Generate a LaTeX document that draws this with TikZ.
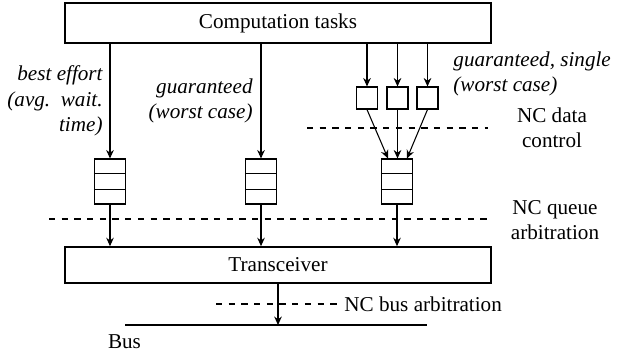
\documentclass[tikz,border=0pt]{standalone}
\usepackage{fontspec}
\setmainfont{Liberation Serif}
\usetikzlibrary{arrows.meta,calc}
\tikzset{
  bigbox/.style={draw,line width=0.8pt,minimum width=7.08cm,inner sep=0pt},
  smallbox/.style={draw,line width=0.5pt,minimum width=0.349cm,minimum height=0.366cm,inner sep=0pt},
  queuebox/.style={draw,line width=0.5pt,minimum width=0.515cm,minimum height=0.748cm,inner sep=0pt},
  arr/.style={line width=0.5pt,-{Stealth[length=4pt,width=3.6pt]}},
  sep/.style={dashed,line width=0.5pt},
  lbl/.style={font=\itshape,inner sep=0pt},
  txt/.style={inner sep=0pt,align=center}
}
\newcommand{\qlines}[1]{%
  \draw[line width=0.5pt] ($(#1.north west)!1/3!(#1.south west)$) -- ($(#1.north east)!1/3!(#1.south east)$);
  \draw[line width=0.5pt] ($(#1.north west)!2/3!(#1.south west)$) -- ($(#1.north east)!2/3!(#1.south east)$);}
\begin{document}
\begin{tikzpicture}[x=0.01662cm,y=-0.01662cm]
\useasboundingbox (0,0) rectangle (624,358);
% main boxes
\node[bigbox,minimum height=0.665cm] (tasks) at (278,23) {Computation tasks};
\node[bigbox,minimum height=0.598cm] (tr) at (278,265) {Transceiver};
% queues
\node[queuebox] (q1) at (110,181.5) {};
\node[queuebox] (q2) at (261,181.5) {};
\node[queuebox] (q3) at (397,181.5) {};
\qlines{q1}\qlines{q2}\qlines{q3}
% single boxes
\node[smallbox] (s1) at (367,98) {};
\node[smallbox] (s2) at (397.5,98) {};
\node[smallbox] (s3) at (427.5,98) {};
% arrows from tasks
\draw[arr] (tasks.south -| q1) -- (q1.north);
\draw[arr] (tasks.south -| q2) -- (q2.north);
\draw[arr] (tasks.south -| s1) -- (s1.north);
\draw[arr] (tasks.south -| s2) -- (s2.north);
\draw[arr] (tasks.south -| s3) -- (s3.north);
% single to queue
\draw[arr] (s1.south) -- ($(q3.north)+(-9,0)$);
\draw[arr] (s2.south) -- (s2.south |- q3.north);
\draw[arr] (s3.south) -- ($(q3.north)+(10,0)$);
% queue to transceiver
\draw[arr] (q1.south) -- (q1.south |- tr.north);
\draw[arr] (q2.south) -- (q2.south |- tr.north);
\draw[arr] (q3.south) -- (q3.south |- tr.north);
% bus
\coordinate (busL) at (125,325);
\coordinate (busR) at (427,325);
\draw[line width=0.6pt] (busL) -- (busR);
\draw[arr] (tr.south) -- (tr.south |- busL);
% separators
\draw[sep] (307,128) -- (488,128);
\draw[sep] (49,219) -- (488,219);
\draw[sep] (216,304) -- (338,304);
% labels
\node[lbl,anchor=east,align=right] (l1) at (103,101) {best effort\\(avg.\ \ wait.\\time)};
\node[lbl,anchor=east,align=right] (l2) at (253,101) {guaranteed\\(worst case)};
\node[lbl,anchor=west,align=left] (l3) at (453,74) {guaranteed, single\\(worst case)};
\node[txt] (nc1) at (552,128) {NC data\\control};
\node[txt] (nc2) at (555,220) {NC queue\\arbitration};
\node[txt,anchor=west] (nc3) at (344,304) {NC bus arbitration};
\node[txt] (bus) at (124.5,342) {Bus};
\end{tikzpicture}
\end{document}
